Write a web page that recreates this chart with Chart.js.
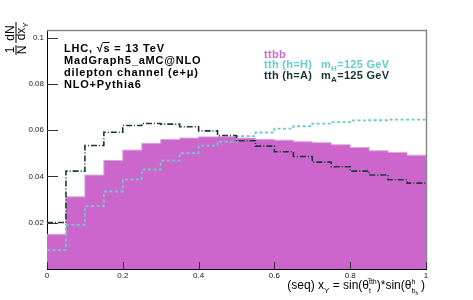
<!DOCTYPE html>
<html>
<head>
<meta charset="utf-8">
<script src="https://cdn.jsdelivr.net/npm/chart.js@4/dist/chart.umd.min.js"></script>
<style>
  body { margin: 0; background: #fff; }
  #wrap { width: 473px; height: 300px; }
</style>
</head>
<body>
<div id="wrap"><canvas id="myChart" width="473" height="300"></canvas></div>
<script>
// bin edges of x_Y (20 bins)
const binEdges = [0, 0.05, 0.1, 0.15, 0.2, 0.25, 0.3, 0.35, 0.4, 0.45, 0.5,
                  0.55, 0.6, 0.65, 0.7, 0.75, 0.8, 0.85, 0.9, 0.95, 1]

// normalised distributions
const ttbb = [0.0150, 0.0312, 0.0406, 0.0469, 0.0514, 0.0543, 0.0560, 0.0566, 0.0571, 0.0572,
              0.0566, 0.0560, 0.0557, 0.0550, 0.0546, 0.0537, 0.0525, 0.0511, 0.0504, 0.0492]
const tthH = [0.0082, 0.0191, 0.0272, 0.0335, 0.0387, 0.0430, 0.0468, 0.0501, 0.0533, 0.0550,
              0.0574, 0.0590, 0.0607, 0.0617, 0.0628, 0.0635, 0.0642, 0.0643, 0.0646, 0.0646]
const tthA = [0.0201, 0.0423, 0.0534, 0.0591, 0.0620, 0.0629, 0.0626, 0.0615, 0.0597, 0.0577,
              0.0554, 0.0531, 0.0507, 0.0486, 0.0462, 0.0442, 0.0423, 0.0406, 0.0386, 0.0371]

const yTicks = [0.02, 0.04, 0.06, 0.08, 0.1]
const xTicks = [0, 0.2, 0.4, 0.6, 0.8, 1]

const header = ['LHC, \u221As = 13 TeV', 'MadGraph5_aMC@NLO', 'dilepton channel (e+\u03bc)', 'NLO+Pythia6']

const FONT = '"Liberation Sans", Arial, Helvetica, sans-serif'

// histogram -> stepped points (left edges + closing point)
function histPoints(vals) {
    const pts = vals.map((v, i) => ({ x: binEdges[i], y: v }))
    pts.push({ x: binEdges[binEdges.length - 1], y: vals[vals.length - 1] })
    return pts
}

// draw a run of text pieces: {t, size, dy, bold} or stacked {sup, sub}
function richWidth(ctx, parts, base) {
    let w = 0
    parts.forEach(p => {
        if (p.sup !== undefined) {
            ctx.font = `${p.size || 8}px ${FONT}`
            w += Math.max(ctx.measureText(p.sup).width, ctx.measureText(p.sub).width)
        } else {
            ctx.font = `${p.bold ? 'bold ' : ''}${p.size || base}px ${FONT}`
            w += ctx.measureText(p.t).width
        }
    })
    return w
}

function drawRich(ctx, x, y, parts, base) {
    ctx.textAlign = 'left'
    ctx.textBaseline = 'alphabetic'
    parts.forEach(p => {
        if (p.sup !== undefined) {
            ctx.font = `${p.size || 8}px ${FONT}`
            ctx.fillText(p.sup, x, y - (p.supDy || 5))
            ctx.fillText(p.sub, x, y + (p.subDy || 4))
            if (p.extra) p.extra(ctx, x, y)
            x += Math.max(ctx.measureText(p.sup).width, ctx.measureText(p.sub).width)
        } else {
            ctx.font = `${p.bold ? 'bold ' : ''}${p.size || base}px ${FONT}`
            ctx.fillText(p.t, x, y + (p.dy || 0))
            x += ctx.measureText(p.t).width
        }
    })
    return x
}

const decorations = {
    id: 'decorations',
    afterDatasetsDraw(chart) {
        const ctx = chart.ctx
        const area = chart.chartArea
        const xs = chart.scales.x
        const ys = chart.scales.y
        ctx.save()

        // frame top / right
        ctx.strokeStyle = '#888'
        ctx.lineWidth = 1.5
        ctx.beginPath()
        ctx.moveTo(area.left, area.top + 0.5)
        ctx.lineTo(area.right + 0.5, area.top + 0.5)
        ctx.lineTo(area.right + 0.5, area.bottom)
        ctx.stroke()

        // inward tick marks
        ctx.strokeStyle = '#333'
        ctx.lineWidth = 1
        ctx.beginPath()
        yTicks.forEach(v => {
            const py = Math.round(ys.getPixelForValue(v)) + 0.5
            ctx.moveTo(area.left, py)
            ctx.lineTo(area.left + 11, py)
        })
        xTicks.forEach(v => {
            const px = Math.round(xs.getPixelForValue(v)) + 0.5
            ctx.moveTo(px, area.bottom)
            ctx.lineTo(px, area.bottom - 7)
        })
        ctx.stroke()

        // header block
        ctx.fillStyle = '#000'
        ctx.letterSpacing = '0.8px'
        ctx.font = `bold 11px ${FONT}`
        ctx.textAlign = 'left'
        const hy = [51.5, 63.7, 76, 88]
        header.forEach((s, i) => ctx.fillText(s, 64, hy[i]))
        // overline on the s under the root
        const pre = ctx.measureText('LHC, \u221A').width
        const sw = ctx.measureText('s').width
        ctx.fillRect(64 + pre - 1, 42, sw, 1)

        // legend
        ctx.letterSpacing = '0.3px'
        ctx.font = `bold 11px ${FONT}`
        ctx.fillStyle = '#cc66cc'
        ctx.fillText('ttbb', 264, 57.5)
        ctx.fillStyle = '#66cccc'
        ctx.fillText('tth (h=H)', 264, 68)
        drawRich(ctx, 321, 68, [{ t: 'm', bold: true }, { t: 'H', size: 8, dy: 3, bold: true }, { t: '=125 GeV', bold: true }], 11)
        ctx.fillStyle = '#163333'
        ctx.fillText('tth (h=A)', 264, 79)
        drawRich(ctx, 321, 79, [{ t: 'm', bold: true }, { t: 'A', size: 8, dy: 3, bold: true }, { t: '=125 GeV', bold: true }], 11)
        ctx.letterSpacing = '0px'

        // x axis title, right aligned at frame edge
        ctx.fillStyle = '#000'
        const xt = [
            { t: '(seq) x' }, { t: 'Y', size: 8, dy: 4 },
            { t: ' = sin(\u03b8' },
            { sup: 't\u0305th', sub: 't', size: 7, supDy: 5, subDy: 4 },
            { t: ')*sin(\u03b8' },
            { sup: 'h', sub: 'b', size: 7, supDy: 5, subDy: 4,
              extra: (c, x, y) => { c.font = `5px ${FONT}`; c.fillText('h', x + 4, y + 6) } },
            { t: '  )' }
        ]
        const w = richWidth(ctx, xt, 12)
        drawRich(ctx, area.right - w, 289, xt, 12)

        // y axis title 1/N dN/dx_Y, rotated
        ctx.translate(16, 0)
        ctx.rotate(-Math.PI / 2)
        ctx.font = `12px ${FONT}`
        ctx.textAlign = 'center'
        ctx.fillText('1', -50, -2)
        ctx.fillText('N', -50, 10)
        ctx.fillRect(-55, -0.5, 10, 1)
        ctx.fillText('dN', -33, -2)
        ctx.fillText('dx', -34, 9)
        ctx.font = `8px ${FONT}`
        ctx.fillText('Y', -25, 12)
        ctx.fillRect(-43, -0.5, 21, 1)

        ctx.restore()
    }
}

const ctx = document.getElementById('myChart')
new Chart(ctx, {
    type: 'line',
    data: {
        datasets: [
            {
                label: 'tth (h=A)',
                data: histPoints(tthA),
                stepped: 'before',
                borderColor: '#1a3a3a',
                borderWidth: 1.6,
                borderDash: [6, 2, 1, 2],
                pointRadius: 0,
                fill: false,
                order: 1
            },
            {
                label: 'tth (h=H)',
                data: histPoints(tthH),
                stepped: 'before',
                borderColor: '#6cc9cc',
                borderWidth: 1.8,
                borderDash: [3, 2.5],
                pointRadius: 0,
                fill: false,
                order: 2
            },
            {
                label: 'ttbb',
                data: histPoints(ttbb),
                stepped: 'before',
                borderColor: '#dba6db',
                backgroundColor: '#cc66cc',
                borderWidth: 1,
                pointRadius: 0,
                fill: 'origin',
                order: 3
            }
        ]
    },
    options: {
        responsive: false,
        animation: false,
        devicePixelRatio: 1,
        layout: { padding: { top: 30, right: 47, left: 0, bottom: 0 } },
        plugins: { legend: { display: false }, tooltip: { enabled: false } },
        scales: {
            x: {
                type: 'linear',
                min: 0,
                max: 1,
                afterFit: s => { s.height = 31 },
                grid: { display: false, drawTicks: false },
                border: { display: true, color: '#000', width: 1 },
                ticks: {
                    stepSize: 0.2,
                    padding: 2,
                    color: '#222',
                    font: { family: FONT, size: 8 },
                    maxRotation: 0,
                    callback: v => String(+v.toFixed(1))
                }
            },
            y: {
                min: 0,
                max: 0.1033,
                afterFit: s => { s.width = 47 },
                grid: { display: false, drawTicks: false },
                border: { display: true, color: '#000', width: 1 },
                ticks: {
                    stepSize: 0.02,
                    includeBounds: false,
                    padding: 3,
                    color: '#222',
                    font: { family: FONT, size: 8 },
                    callback: v => v === 0 ? '' : String(+v.toFixed(2))
                }
            }
        }
    },
    plugins: [decorations]
})
</script>
</body>
</html>
